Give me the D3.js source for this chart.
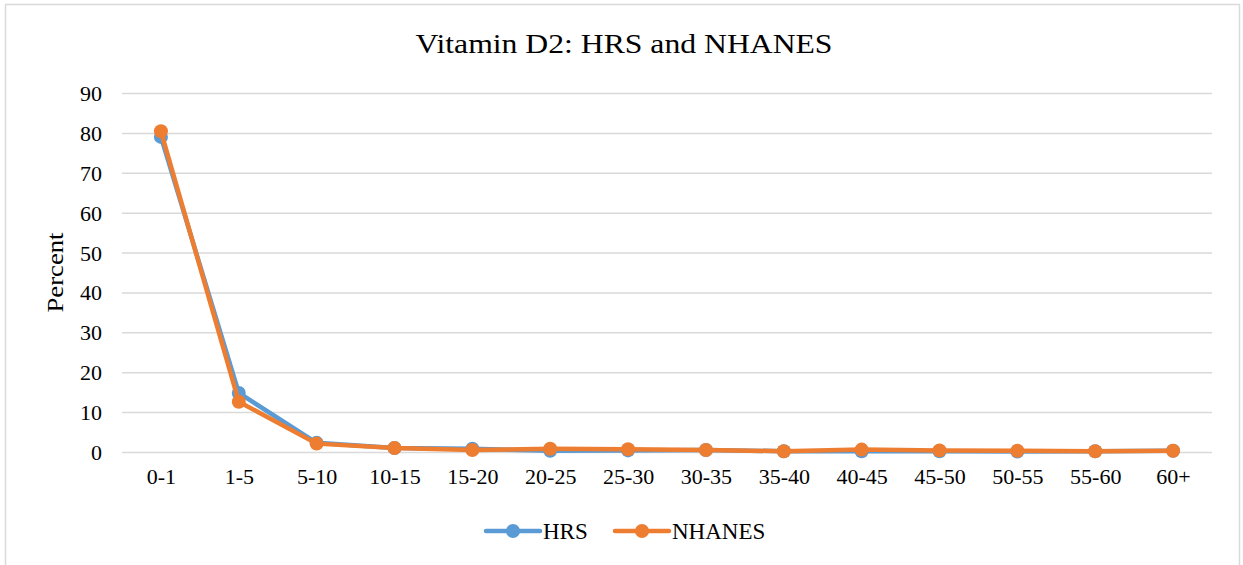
<!DOCTYPE html>
<html>
<head>
<meta charset="utf-8">
<script src="https://cdn.jsdelivr.net/npm/d3@7/dist/d3.min.js"></script>
<style>
    body { margin: 0; background: #fff; }
    svg text { font-family: "Liberation Serif", "Times New Roman", serif !important; fill: #000; }
</style>
</head>
<body>
<div id="chart"></div>
<script>
var categories = ["0-1", "1-5", "5-10", "10-15", "15-20", "20-25", "25-30", "30-35", "35-40", "40-45", "45-50", "50-55", "55-60", "60+"];
var hrsValues = [79.0, 14.8, 2.3, 1.0, 0.8, 0.3, 0.4, 0.5, 0.2, 0.2, 0.2, 0.1, 0.2, 0.3];
var nhanesValues = [80.4, 12.6, 2.1, 1.0, 0.5, 0.8, 0.7, 0.5, 0.2, 0.6, 0.4, 0.3, 0.2, 0.3];
var yTicks = [0, 10, 20, 30, 40, 50, 60, 70, 80, 90];
var seriesNames = ["HRS", "NHANES"];
var seriesColors = ["#5b9bd5", "#ed7d31"];

var width = 1243, height = 565;
var margin = { top: 93, right: 31, bottom: 113, left: 122 };
var serif = "'Liberation Serif', 'Times New Roman', serif";

var svg = d3.select("#chart").append("svg")
    .attr("width", width)
    .attr("height", height);

// outer chart border
svg.append("rect")
    .attr("x", 5.5).attr("y", 4.5)
    .attr("width", 1234).attr("height", 600)
    .attr("fill", "none")
    .attr("stroke", "#d9d9d9")
    .attr("stroke-width", 1.5);

var x = d3.scalePoint()
    .domain(categories)
    .range([margin.left, width - margin.right])
    .padding(0.5);

var y = d3.scaleLinear()
    .domain([0, 90])
    .range([height - margin.bottom, margin.top]);

// title
svg.append("text")
    .attr("x", 624).attr("y", 53)
    .attr("text-anchor", "middle")
    .attr("font-family", serif)
    .attr("textLength", 417)
    .attr("lengthAdjust", "spacingAndGlyphs")
    .style("font-size", "27px")
    .text("Vitamin D2: HRS and NHANES");

// gridlines + y labels
var yAxis = d3.axisLeft(y).tickValues(yTicks).tickSize(-(width - margin.left - margin.right)).tickPadding(20);
var gy = svg.append("g")
    .attr("transform", "translate(" + margin.left + ",0)")
    .call(yAxis);
gy.attr("font-family", serif);
gy.select(".domain").remove();
gy.selectAll(".tick line").attr("stroke", "#d9d9d9").attr("stroke-width", 1.5);
gy.selectAll(".tick text").style("font-size", "22px").attr("fill", "#000").attr("dy", "0.34em");

var xAxis = d3.axisBottom(x).tickSize(0).tickPadding(16);
var gx = svg.append("g")
    .attr("transform", "translate(0," + y(0) + ")")
    .call(xAxis);
gx.attr("font-family", serif);
gx.select(".domain").remove();
gx.selectAll(".tick text").style("font-size", "22px").attr("fill", "#000");

// y axis title
svg.append("text")
    .attr("transform", "translate(63," + ((margin.top + height - margin.bottom) / 2) + ") rotate(-90)")
    .attr("text-anchor", "middle")
    .attr("font-family", serif)
    .attr("textLength", 80)
    .attr("lengthAdjust", "spacingAndGlyphs")
    .style("font-size", "23px")
    .text("Percent");

var line = d3.line()
    .x(function(d, i) { return x(categories[i]); })
    .y(function(d) { return y(d); });

var allSeries = [hrsValues, nhanesValues];
allSeries.forEach(function(vals, s) {
    var g = svg.append("g");
    g.append("path")
        .datum(vals)
        .attr("fill", "none")
        .attr("stroke", seriesColors[s])
        .attr("stroke-width", 4.5)
        .attr("stroke-linejoin", "round")
        .attr("d", line);
    g.selectAll("circle")
        .data(vals)
        .enter().append("circle")
        .attr("cx", function(d, i) { return x(categories[i]); })
        .attr("cy", function(d) { return y(d); })
        .attr("r", 7)
        .attr("fill", seriesColors[s]);
});

// legend
var lg = svg.append("g").attr("transform", "translate(0,531)");
seriesNames.forEach(function(name, s) {
    var lx = s === 0 ? 486 : 615;
    lg.append("line")
        .attr("x1", lx).attr("x2", lx + 54)
        .attr("y1", 0).attr("y2", 0)
        .attr("stroke", seriesColors[s])
        .attr("stroke-width", 4.5)
        .attr("stroke-linecap", "round");
    lg.append("circle")
        .attr("cx", lx + 27).attr("cy", 0)
        .attr("r", 7)
        .attr("fill", seriesColors[s]);
    lg.append("text")
        .attr("x", lx + 57).attr("y", 8)
        .attr("font-family", serif)
        .style("font-size", "23px")
        .text(name);
});
</script>
</body>
</html>
